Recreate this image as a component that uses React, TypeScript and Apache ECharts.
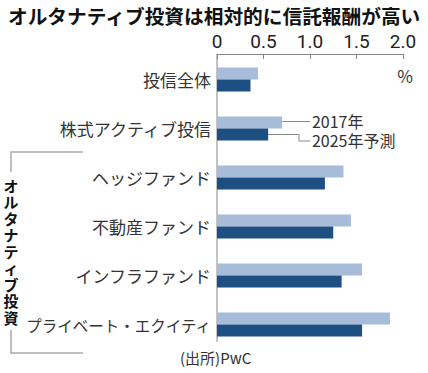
import React, { useEffect, useRef } from "react";
import * as echarts from "echarts";

const categories = [
  "投信全体",
  "株式アクティブ投信",
  "ヘッジファンド",
  "不動産ファンド",
  "インフラファンド",
  "プライベート・エクイティ",
];
const fee2017 = [0.44, 0.7, 1.36, 1.44, 1.56, 1.86];
const fee2025 = [0.36, 0.55, 1.16, 1.25, 1.34, 1.56];
const seriesNames = ["2017年", "2025年予測"];
const xTicks = { min: 0, max: 2, interval: 0.5 };
const title = "オルタナティブ投資は相対的に信託報酬が高い";
const groupLabel = "オルタナティブ投資";
const source = "(出所)PwC";

const JP = '"Noto Sans CJK JP", sans-serif';

export default function App() {
  const ref = useRef<HTMLDivElement>(null);
  useEffect(() => {
    if (!ref.current) return;
    const chart = echarts.init(ref.current, null, { renderer: "svg" });
    chart.setOption({
      animation: false,
      grid: { left: 217, right: 25, top: 55, height: 294 },
      xAxis: {
        type: "value",
        position: "top",
        offset: 1,
        min: xTicks.min,
        max: xTicks.max,
        interval: xTicks.interval,
        axisLine: { show: true, lineStyle: { color: "#888", width: 1 } },
        axisTick: { show: true, inside: true, length: 5, lineStyle: { color: "#888" } },
        splitLine: { show: false },
        axisLabel: {
          margin: 3,
          fontSize: 19,
          color: "#222",
          fontFamily: '"Liberation Sans Narrow", Roboto, sans-serif',
          formatter: (v: number) => (v === 0 ? "0" : v.toFixed(1)),
        },
      },
      yAxis: {
        type: "category",
        inverse: true,
        data: categories,
        axisLine: { show: false },
        axisTick: { show: false },
        axisLabel: {
          margin: 6,
          fontSize: 17,
          color: "#333",
          fontFamily: JP,
          formatter: (v: string) => (v.length > 10 ? `{s|${v}}` : v),
          rich: { s: { fontSize: 15.5, color: "#333", fontFamily: JP } },
        },
      },
      series: [
        {
          name: seriesNames[0],
          type: "bar",
          data: fee2017,
          barWidth: 12,
          barGap: "0%",
          itemStyle: { color: "#a6bcd9" },
        },
        {
          name: seriesNames[1],
          type: "bar",
          data: fee2025,
          barWidth: 12,
          barGap: "0%",
          itemStyle: { color: "#1d4f82" },
        },
      ],
    });

    const p1 = chart.convertToPixel({ xAxisIndex: 0, yAxisIndex: 0 }, [fee2017[1], 1]) as number[];
    const p2 = chart.convertToPixel({ xAxisIndex: 0, yAxisIndex: 0 }, [fee2025[1], 1]) as number[];
    const yL = p1[1] - 7;
    const yD = p2[1] + 6;

    const vChars = groupLabel.split("").map((ch, i) => ({
      type: "text",
      x: 11,
      y: 185 + i * 16.5,
      scaleX: 1.36,
      scaleY: 1.36,
      style: {
        text: ch,
        font: `bold 11px ${JP}`,
        lineHeight: 11,
        fill: "#111",
        align: "center",
        verticalAlign: "middle",
      },
    }));

    chart.setOption({
      graphic: [
        {
          type: "text",
          left: 8,
          top: 6,
          style: { text: title, font: `bold 19.7px ${JP}`, fill: "#111" },
        },
        {
          type: "text",
          x: 405,
          y: 75,
          style: { text: "%", font: `17px ${JP}`, fill: "#333", align: "center", verticalAlign: "middle" },
        },
        {
          type: "line",
          shape: { x1: 217, y1: 54, x2: 217, y2: 342 },
          style: { stroke: "#888", lineWidth: 1 },
        },
        {
          type: "line",
          shape: { x1: p1[0], y1: yL, x2: 310, y2: yL },
          style: { stroke: "#888", lineWidth: 1 },
        },
        {
          type: "polyline",
          shape: { points: [[p2[0], yD], [299, yD], [299, 141], [310, 141]] },
          style: { stroke: "#888", lineWidth: 1, fill: null },
        },
        {
          type: "text",
          x: 312,
          y: 121,
          scaleX: 1.333,
          scaleY: 1.333,
          style: { text: seriesNames[0], font: `12px ${JP}`, lineHeight: 12, fill: "#333", verticalAlign: "middle" },
        },
        {
          type: "text",
          x: 312,
          y: 140,
          scaleX: 1.333,
          scaleY: 1.333,
          style: { text: seriesNames[1], font: `12px ${JP}`, lineHeight: 12, fill: "#333", verticalAlign: "middle" },
        },
        {
          type: "polyline",
          shape: { points: [[83, 152], [11, 152], [11, 353], [83, 353]] },
          style: { stroke: "#aaa", lineWidth: 1.5, fill: null },
        },
        {
          type: "rect",
          shape: { x: 2, y: 172, width: 18, height: 158 },
          style: { fill: "#fff" },
        },
        ...vChars,
        {
          type: "text",
          x: 180,
          y: 357,
          style: { text: source, font: `15px ${JP}`, fill: "#333", verticalAlign: "middle" },
        },
      ],
    });
    return () => chart.dispose();
  }, []);
  return (
    <div
      ref={ref}
      style={{ position: "fixed", left: 0, top: 0, width: 428, height: 373, background: "#fff" }}
    />
  );
}
